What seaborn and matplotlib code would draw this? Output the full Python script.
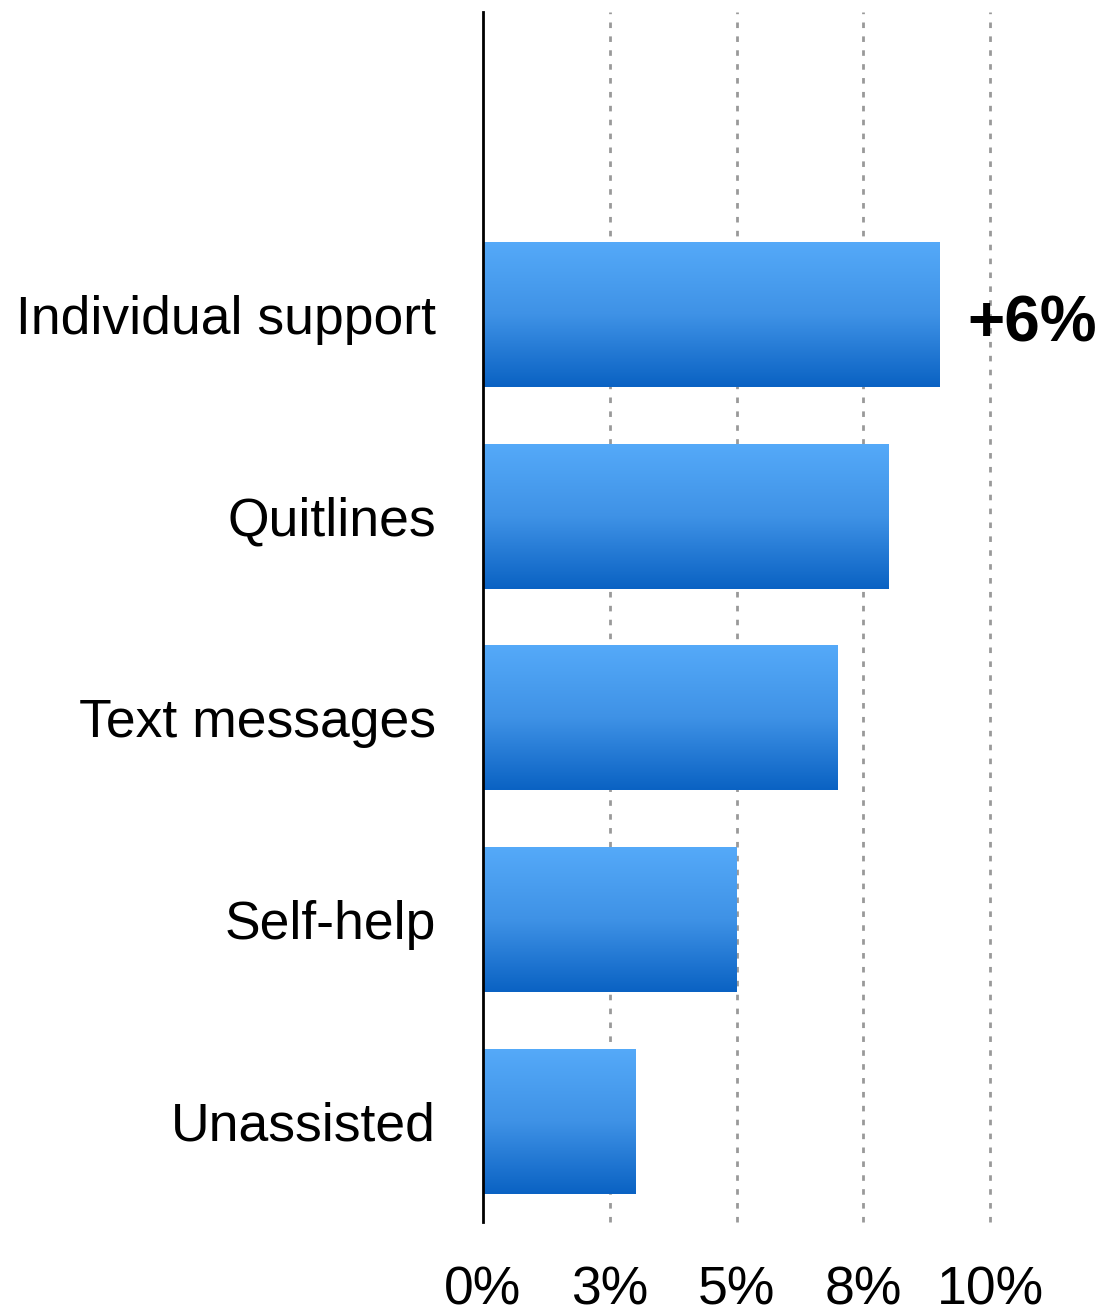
import numpy as np
import pandas as pd
import matplotlib
matplotlib.use("Agg")
import matplotlib.pyplot as plt
import seaborn as sns
from matplotlib.colors import LinearSegmentedColormap

# ---- data ----
categories = ["Individual support", "Quitlines", "Text messages", "Self-help", "Unassisted"]
values = [9.0, 8.0, 7.0, 5.0, 3.0]
tick_values = [0, 2.5, 5, 7.5, 10]
tick_labels = ["0%", "3%", "5%", "8%", "10%"]
annotation_text = "+6%"

df = pd.DataFrame({"category": categories, "value": values})

sns.set_theme(style="white")
plt.rcParams["font.family"] = ["Liberation Sans", "DejaVu Sans"]

fig = plt.figure(figsize=(10.99, 13.09), dpi=100)
ax = fig.add_axes([483 / 1099, 1 - 1222 / 1309, (990 - 483) / 1099, (1222 - 12) / 1309])

sns.barplot(data=df, x="value", y="category", order=categories, orient="h",
            width=0.72, color="#2f86e0", ax=ax, zorder=2)

# gradient fill of bars
cmap = LinearSegmentedColormap.from_list("grad", ["#55aaf9", "#3f92e6", "#0a62c3"])
grad = np.linspace(0, 1, 256).reshape(-1, 1)
for p in ax.patches:
    x0, y0 = p.get_x(), p.get_y()
    w, h = p.get_width(), p.get_height()
    p.set_facecolor("none")
    p.set_edgecolor("none")
    im = ax.imshow(grad, cmap=cmap, aspect="auto",
                   extent=[x0, x0 + w, y0 + h, y0], zorder=2, origin="upper")
    im.set_clip_path(p)
ax.set_xlim(0, 10)
ax.set_ylim(4.5, -1.5)

# grid
ax.set_xticks(tick_values)
ax.set_xticklabels(tick_labels)
for xv in tick_values[1:]:
    ax.axvline(xv, color="#999999", lw=2, ls=(0, (2, 3)), zorder=1, clip_on=False)

for s in ["top", "right", "bottom"]:
    ax.spines[s].set_visible(False)
ax.spines["left"].set_color("black")
ax.spines["left"].set_linewidth(2)
ax.spines["left"].set_zorder(3)

ax.set_xlabel("")
ax.set_ylabel("")
ax.tick_params(axis="x", length=0, pad=31, labelsize=38.5, labelcolor="black")
ax.tick_params(axis="y", length=0, pad=34, labelsize=38.5, labelcolor="black")

ax.text(9.55, 0.05, annotation_text, ha="left", va="center",
        fontsize=46, fontweight="bold", color="black", clip_on=False)

fig.savefig("out.png", dpi=100, facecolor="white")
